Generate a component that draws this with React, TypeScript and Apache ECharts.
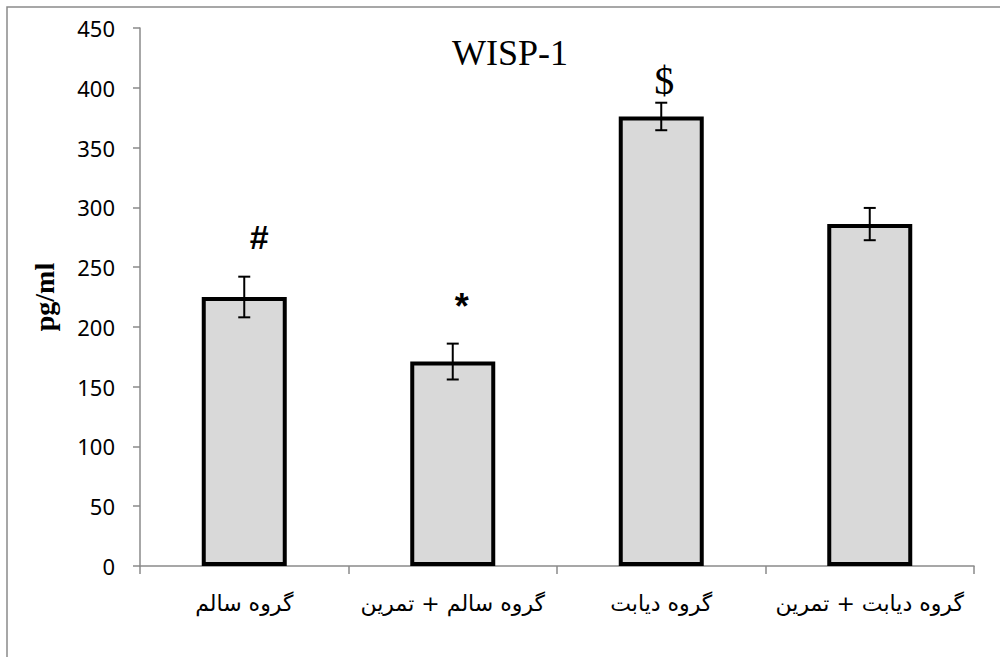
import React, { useEffect, useRef } from "react";
import * as echarts from "echarts";

const categories = ["گروه سالم", "گروه سالم + تمرین", "گروه دیابت", "گروه دیابت + تمرین"];
const means = [225, 171, 376, 286];
const errors = [17, 15, 11.5, 13.5];
const annotations = ["#", "*", "$", ""];
const annotationValues = [275, 217, 406, 0];
const yTicks = { min: 0, max: 450, interval: 50 };

const annotationFonts = [
  { font: "bold 34px 'Liberation Sans', Arial, sans-serif", dx: 15 },
  { font: "bold 36px 'Liberation Sans', Arial, sans-serif", dx: 9 },
  { font: "40px 'Liberation Serif', 'Times New Roman', serif", dx: 3 },
  { font: "20px sans-serif", dx: 0 },
];

export default function App() {
  const ref = useRef<HTMLDivElement>(null);
  useEffect(() => {
    if (!ref.current) return;
    const chart = echarts.init(ref.current, null, { renderer: "svg" });
    const errData = categories.map((_, i) => [i, means[i] - errors[i], means[i] + errors[i], annotationValues[i]]);
    chart.setOption({
      animation: false,
      backgroundColor: "#fff",
      title: {
        text: "WISP-1",
        left: 505,
        top: 30,
        textAlign: "center",
        textStyle: {
          fontFamily: "'Liberation Serif', 'Times New Roman', serif",
          fontSize: 36,
          fontWeight: "normal",
          color: "#000",
        },
      },
      graphic: [
        {
          type: "rect",
          shape: { x: 7, y: 7, width: 1200, height: 1200 },
          style: { fill: "none", stroke: "#8a8a8a", lineWidth: 1.5 },
          silent: true,
        },
      ],
      grid: { left: 140, right: 26, top: 28, bottom: 91 },
      xAxis: {
        type: "category",
        data: categories,
        boundaryGap: true,
        axisLine: { show: true, lineStyle: { color: "#8a8a8a", width: 1.5 } },
        axisTick: { show: true, length: 8, alignWithLabel: false, lineStyle: { color: "#8a8a8a", width: 1.5 } },
        axisLabel: {
          interval: 0,
          margin: 26,
          fontSize: 22,
          color: "#000",
          fontFamily: "'DejaVu Sans', sans-serif",
        },
        splitLine: { show: false },
      },
      yAxis: {
        type: "value",
        min: yTicks.min,
        max: yTicks.max,
        interval: yTicks.interval,
        name: "pg/ml",
        nameLocation: "middle",
        nameGap: 82,
        nameRotate: 90,
        nameTextStyle: {
          fontFamily: "'Liberation Serif', 'Times New Roman', serif",
          fontWeight: "bold",
          fontSize: 28,
          color: "#000",
        },
        axisLine: { show: true, lineStyle: { color: "#8a8a8a", width: 1.5 } },
        axisTick: { show: true, length: 7, inside: false, lineStyle: { color: "#8a8a8a", width: 1.5 } },
        axisLabel: {
          margin: 25,
          fontSize: 22,
          color: "#000",
          fontFamily: "'Noto Sans', sans-serif",
        },
        splitLine: { show: false },
      },
      series: [
        {
          type: "bar",
          data: means,
          barWidth: 85,
          itemStyle: { color: "#d9d9d9", borderColor: "#000", borderWidth: 4 },
          z: 2,
        },
        {
          type: "custom",
          data: errData,
          z: 5,
          renderItem: (params: any, api: any) => {
            const i = api.value(0);
            const lo = api.coord([i, api.value(1)]);
            const hi = api.coord([i, api.value(2)]);
            const an = api.coord([i, api.value(3)]);
            const cap = 6;
            const style = { stroke: "#000", lineWidth: 2 };
            const children: any[] = [
              { type: "line", shape: { x1: hi[0], y1: hi[1], x2: lo[0], y2: lo[1] }, style },
              { type: "line", shape: { x1: hi[0] - cap, y1: hi[1], x2: hi[0] + cap, y2: hi[1] }, style },
              { type: "line", shape: { x1: lo[0] - cap, y1: lo[1], x2: lo[0] + cap, y2: lo[1] }, style },
            ];
            const idx = params.dataIndex;
            if (annotations[idx]) {
              children.push({
                type: "text",
                style: {
                  text: annotations[idx],
                  x: an[0] + annotationFonts[idx].dx,
                  y: an[1],
                  align: "center",
                  verticalAlign: "middle",
                  font: annotationFonts[idx].font,
                  fill: "#000",
                },
              });
            }
            return { type: "group", children };
          },
        },
      ],
    });
    return () => chart.dispose();
  }, []);
  return <div ref={ref} style={{ position: "fixed", left: 0, top: 0, width: 1000, height: 657 }} />;
}
